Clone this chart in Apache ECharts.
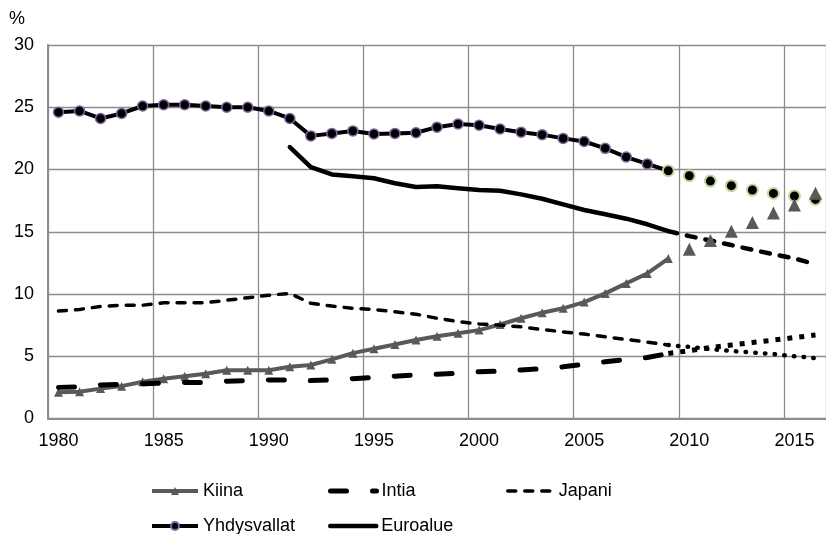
<!DOCTYPE html>
<html>
<head>
<meta charset="utf-8">
<script src="https://cdn.jsdelivr.net/npm/echarts@6/dist/echarts.min.js"></script>
<style>
html,body{margin:0;padding:0;background:#fff;}
#chart{width:826px;height:534px;}
</style>
</head>
<body>
<div id="chart"></div>
<script>
// Categories (years)
var years = ['1980','1981','1982','1983','1984','1985','1986','1987','1988','1989',
             '1990','1991','1992','1993','1994','1995','1996','1997','1998','1999',
             '2000','2001','2002','2003','2004','2005','2006','2007','2008','2009',
             '2010','2011','2012','2013','2014','2015','2016'];
var yTicks = [0, 5, 10, 15, 20, 25, 30];

// Kiina 1980-2009 (history), 2010-2016 (projection markers)
var kiinaHist = [2.1,2.15,2.4,2.6,2.95,3.2,3.4,3.6,3.88,3.88,3.88,4.15,4.3,4.75,5.25,5.6,5.95,6.3,6.6,6.85,7.1,7.55,8.05,8.5,8.85,9.35,10.05,10.85,11.65,12.85];
var kiinaProj = [13.6,14.3,15.05,15.75,16.5,17.15,18.1];
// Intia 1980-2009, projection 2009-2016
var intiaHist = [2.5,2.55,2.7,2.75,2.8,2.85,2.9,2.9,3.0,3.05,3.1,3.1,3.05,3.1,3.2,3.3,3.4,3.5,3.55,3.65,3.75,3.8,3.9,4.0,4.15,4.35,4.55,4.75,4.9,5.22];
var intiaProj = [5.22,5.45,5.7,5.9,6.1,6.3,6.5,6.7];
// Japani 1980-2009, projection 2009-2016
var japaniHist = [8.63,8.76,9.0,9.1,9.1,9.3,9.3,9.3,9.5,9.7,9.9,10.05,9.25,9.03,8.85,8.75,8.57,8.38,8.05,7.78,7.6,7.5,7.36,7.15,6.96,6.78,6.56,6.35,6.13,5.9];
var japaniProj = [5.9,5.75,5.58,5.42,5.3,5.18,5.0,4.85];
// Yhdysvallat 1980-2009, projection 2009-2016
var usHist = [24.6,24.7,24.1,24.5,25.1,25.2,25.2,25.1,25.0,25.0,24.7,24.1,22.7,22.9,23.1,22.85,22.9,22.95,23.4,23.65,23.55,23.25,23.0,22.8,22.5,22.25,21.7,21.0,20.45,19.9];
var usProj = [19.9,19.5,19.07,18.7,18.35,18.08,17.87,17.6];
// Euroalue 1991-2009, projection 2009-2016
var euroHist = [21.8,20.2,19.6,19.45,19.3,18.9,18.6,18.65,18.5,18.35,18.3,18.0,17.65,17.2,16.75,16.4,16.05,15.6,15.05];
var euroProj = [15.05,14.65,14.3,13.93,13.55,13.2,12.85,12.4];

function place(values, startYear) {
  var out = [];
  var start = years.indexOf(startYear);
  for (var i = 0; i < years.length; i++) {
    var j = i - start;
    out.push(j >= 0 && j < values.length ? values[j] : null);
  }
  return out;
}

var FONT = 'Liberation Sans, Arial, sans-serif';
var FS = 18;
var GRID = '#8c8c8c';
var NOFILL = 'rgba(0,0,0,0)';

var chart = echarts.init(document.getElementById('chart'), null, {renderer: 'canvas'});

function legendAt(name, left, top, lineWidth) {
  return {
    data: [name], left: left, top: top, orient: 'horizontal',
    itemWidth: 46, itemHeight: 10, itemGap: 0, padding: 0,
    selectedMode: false,
    lineStyle: {width: lineWidth},
    textStyle: {fontFamily: FONT, fontSize: FS, color: '#000'}
  };
}

chart.setOption({
  animation: false,
  backgroundColor: '#fff',
  grid: {left: 48, top: 45, width: 784.4, height: 373.5, containLabel: false},
  legend: [
    legendAt('Kiina', 150, 482, 4),
    legendAt('Intia', 328, 482, 5),
    legendAt('Japani', 506, 482, 3.5),
    legendAt('Yhdysvallat', 150, 517, 4),
    legendAt('Euroalue', 328, 517, 4.5)
  ],
  xAxis: {
    type: 'category',
    data: years,
    boundaryGap: true,
    axisLine: {show: true, lineStyle: {color: GRID, width: 2}},
    axisTick: {show: false, interval: 4},
    axisLabel: {interval: 4, margin: 14, fontFamily: FONT, fontSize: FS, color: '#000'},
    splitLine: {show: true, interval: 4, lineStyle: {color: GRID, width: 1.3}}
  },
  yAxis: {
    type: 'value',
    min: yTicks[0], max: yTicks[yTicks.length - 1], interval: 5,
    name: '%',
    nameLocation: 'end',
    nameGap: 17,
    nameTextStyle: {fontFamily: FONT, fontSize: FS, color: '#000', align: 'right', padding: [0, 23, 0, 0]},
    axisLine: {show: true, lineStyle: {color: GRID, width: 2}},
    axisTick: {show: false},
    axisLabel: {margin: 14, fontFamily: FONT, fontSize: FS, color: '#000'},
    splitLine: {show: true, lineStyle: {color: GRID, width: 1.3}}
  },
  series: [
    {
      name: 'Kiina', type: 'line', data: place(kiinaHist, '1980'),
      symbol: 'triangle', symbolSize: 9, showAllSymbol: true,
      lineStyle: {color: '#595959', width: 4},
      itemStyle: {color: '#595959'}, z: 2
    },
    {
      name: 'Intia', type: 'line', data: place(intiaHist, '1980'),
      symbol: 'none',
      lineStyle: {color: '#000', width: 5, type: [16, 26], cap: 'round'},
      itemStyle: {color: NOFILL}, z: 3
    },
    {
      name: 'Japani', type: 'line', data: place(japaniHist, '1980'),
      symbol: 'none',
      lineStyle: {color: '#000', width: 3.5, type: [8, 9], cap: 'round'},
      itemStyle: {color: NOFILL}, z: 3
    },
    {
      name: 'Yhdysvallat', type: 'line', data: place(usHist, '1980'),
      symbol: 'circle', symbolSize: 10, showAllSymbol: true,
      lineStyle: {color: '#000', width: 4},
      itemStyle: {color: '#000', borderColor: '#8064a2', borderWidth: 1.5}, z: 4
    },
    {
      name: 'Euroalue', type: 'line', data: place(euroHist, '1991'),
      symbol: 'none',
      lineStyle: {color: '#000', width: 4.5, cap: 'round'},
      itemStyle: {color: NOFILL}, z: 4
    },
    {
      name: 'Intia ennuste', type: 'line', data: place(intiaProj, '2009'),
      symbol: 'none',
      lineStyle: {color: '#000', width: 5, type: [5, 7], cap: 'butt'},
      itemStyle: {color: '#000'}, z: 3
    },
    {
      name: 'Japani ennuste', type: 'line', data: place(japaniProj, '2009'),
      symbol: 'none',
      lineStyle: {color: '#000', width: 4.5, type: [0.5, 9.2], cap: 'round'},
      itemStyle: {color: '#000'}, z: 3
    },
    {
      name: 'Euroalue ennuste', type: 'line', data: place(euroProj, '2009'),
      symbol: 'none',
      lineStyle: {color: '#000', width: 4.5, type: [9, 10], cap: 'round'},
      itemStyle: {color: '#000'}, z: 4
    },
    {
      name: 'Yhdysvallat ennuste', type: 'line', data: place(usProj, '2009'),
      symbol: 'circle', symbolSize: 11, showAllSymbol: true,
      lineStyle: {width: 0, opacity: 0},
      itemStyle: {color: '#000', borderColor: '#c3d69b', borderWidth: 2}, z: 5
    },
    {
      name: 'Kiina ennuste', type: 'line', data: place(kiinaProj, '2010'),
      symbol: 'triangle', symbolSize: 13, showAllSymbol: true,
      lineStyle: {width: 0, opacity: 0},
      itemStyle: {color: '#595959'}, z: 5
    }
  ]
});
</script>
</body>
</html>
